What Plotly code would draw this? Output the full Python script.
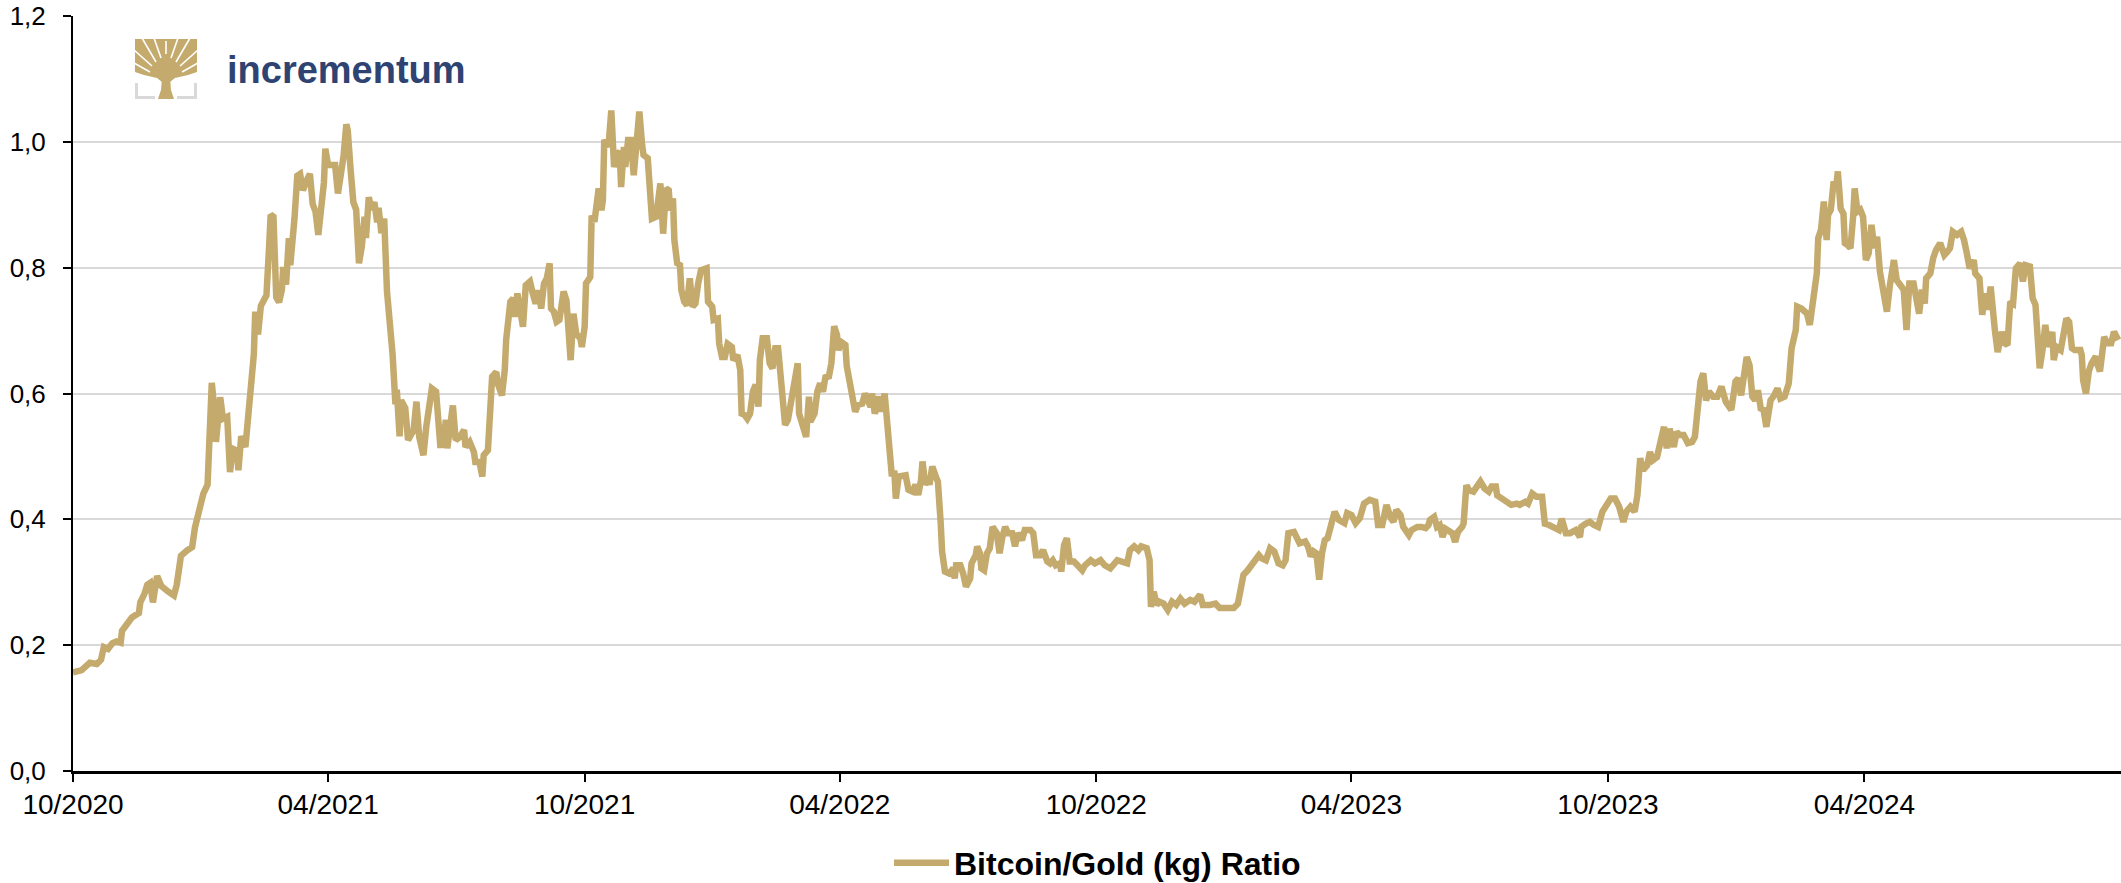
import plotly.graph_objects as go
import pandas as pd

START_DATE = "2020-10-01"
END_DATE = "2024-10-01"
SERIES_NAME = "Bitcoin/Gold (kg) Ratio"
LOGO_TEXT = "incrementum"

# days elapsed since START_DATE for each observation
DAY_OFFSETS = [
    0, 6, 12, 17, 20, 22, 25, 28, 31, 34, 35, 39, 42, 47, 48, 51, 53, 55, 57, 60,
    63, 68, 72, 74, 77, 81, 85, 87, 89, 91, 93, 96, 98, 99, 101, 102, 105, 107, 110, 112,
    114, 117, 118, 120, 123, 125, 127, 129, 130, 132, 134, 136, 138, 140, 141, 143, 144, 145, 147, 149,
    150, 152, 154, 155, 158, 160, 162, 164, 167, 169, 171, 173, 175, 177, 179, 180, 182, 185, 187, 189,
    191, 193, 195, 196, 198, 200, 202, 204, 206, 208, 209, 211, 213, 215, 217, 218, 220, 222, 224, 226,
    228, 230, 231, 233, 234, 237, 239,
    243, 245, 247, 250, 252, 256, 259, 261, 262, 264, 266, 267, 271, 273, 276, 279, 280, 283, 286, 287,
    290, 292, 293, 296, 298, 299, 302, 303, 306, 308, 309, 312, 314, 315, 317, 318, 321, 323, 326, 328,
    330, 332, 334, 336, 338, 340, 341, 343, 345, 347, 350, 352, 354, 355, 357, 359, 362, 363, 365, 366,
    369, 370, 372, 374, 375, 377, 378, 379, 381, 382, 384, 386, 388, 390, 391, 393, 394, 396, 398, 400,
    402, 404, 406, 407, 410, 412, 413, 416, 418, 419, 421, 423, 425, 426, 428, 429, 431, 433, 434, 436,
    438, 440, 442, 444, 446, 448, 452, 453, 456, 457, 460, 461, 463, 465, 467, 470, 471, 474, 476, 477,
    479, 481, 483,
    485, 487, 489, 490, 492, 495, 497, 499, 501, 503, 505, 508, 510, 513, 515, 517, 518, 521, 523, 525,
    526, 529, 531, 533, 535, 537, 539, 541, 543, 545, 546, 548, 551, 552, 554, 556, 558, 560, 563, 565,
    567, 569, 570, 572, 575, 577, 579, 581, 582, 584, 586, 587, 589, 591, 594, 596, 599, 601, 603, 605,
    606, 608, 610, 611, 613, 616, 617, 619, 620, 622, 625, 628, 629, 630, 633, 635, 637, 640, 641, 644,
    645, 647, 648, 650, 652, 654, 656, 659, 661, 663, 665, 667, 670, 672, 674, 677, 679, 683, 685, 687,
    690, 692, 695, 697, 699, 701, 704, 705, 707, 709, 711, 714, 717, 720, 722,
    726, 729, 733, 736, 740, 745, 748, 752, 754, 757, 760, 762, 766, 768, 769, 771, 773, 775, 778, 781,
    784, 787, 790, 793, 797, 800, 804, 806, 811, 815, 818, 823, 828, 831, 833, 835, 838, 840, 842, 846,
    848, 851, 854, 857, 860, 863, 865, 867, 871, 873, 875, 879, 881, 883, 885, 887, 889, 891, 893, 895,
    897, 900, 903, 905, 907, 909, 912, 915, 918, 921, 925, 929, 931, 934, 937, 940, 942, 944, 947, 949,
    953, 955, 959, 962, 965, 967,
    968, 971, 973, 975, 977, 979, 981, 984, 986, 988, 991, 992, 994, 996, 999, 1001, 1004, 1007, 1010, 1012,
    1015, 1016, 1019, 1022, 1024, 1026, 1030, 1032, 1036, 1038, 1041, 1044, 1048, 1050, 1053, 1056, 1060, 1062, 1065, 1068,
    1072, 1075, 1076, 1079, 1082, 1085, 1088, 1091, 1094, 1097, 1100, 1103, 1106, 1108, 1111, 1114, 1116, 1118, 1120, 1123,
    1125, 1127, 1130, 1132, 1135, 1137, 1139, 1142, 1144, 1146, 1149, 1152, 1155, 1157, 1160, 1161, 1163, 1165, 1167, 1170,
    1173, 1176, 1179, 1181, 1183, 1186, 1188, 1190, 1192, 1194, 1196, 1198, 1200, 1202, 1204, 1206, 1208, 1211,
    1213, 1216, 1218, 1221, 1224, 1226, 1229, 1230, 1233, 1237, 1239, 1242, 1244, 1245, 1247, 1249, 1251, 1252, 1254, 1256,
    1258, 1259, 1261, 1263, 1264, 1266, 1268, 1270, 1271, 1273, 1275, 1277, 1279, 1281, 1283, 1285, 1287, 1289, 1292, 1294,
    1296, 1299, 1301, 1304, 1306, 1308, 1310, 1313, 1314, 1317, 1319, 1321, 1322, 1325, 1327, 1329, 1332, 1335, 1337, 1339,
    1341, 1344, 1347, 1349, 1351, 1353, 1356, 1357, 1360, 1362, 1364, 1366, 1368, 1369, 1371, 1373, 1376, 1378, 1380, 1382,
    1384, 1386, 1389, 1391, 1393, 1396, 1398, 1400, 1403, 1405, 1407, 1409, 1412, 1413, 1415, 1418, 1420, 1422, 1424, 1426,
    1428, 1432, 1433, 1434, 1436, 1438, 1440, 1443, 1444, 1446, 1449, 1451, 1454, 1456, 1459,
]

RATIO = [
    0.157, 0.160, 0.172, 0.170, 0.177, 0.197, 0.194, 0.203, 0.206, 0.204, 0.223, 0.234, 0.244, 0.251, 0.268, 0.282, 0.296, 0.299, 0.268, 0.310,
    0.294, 0.285, 0.279, 0.296, 0.342, 0.350, 0.356, 0.387, 0.407, 0.430, 0.441, 0.455, 0.538, 0.617, 0.572, 0.523, 0.594, 0.560, 0.563, 0.475,
    0.512, 0.509, 0.478, 0.532, 0.515, 0.572, 0.597, 0.662, 0.730, 0.694, 0.739, 0.748, 0.756, 0.838, 0.884, 0.881, 0.833, 0.753, 0.745, 0.765,
    0.801, 0.773, 0.847, 0.804, 0.878, 0.946, 0.949, 0.923, 0.940, 0.949, 0.901, 0.889, 0.852, 0.895, 0.935, 0.989, 0.963, 0.963, 0.963, 0.918,
    0.949, 0.977, 1.028, 1.018, 0.957, 0.904, 0.892, 0.807, 0.833, 0.881, 0.847, 0.912, 0.892, 0.904, 0.872, 0.895, 0.855, 0.878, 0.762, 0.719,
    0.662, 0.583, 0.606, 0.532, 0.589, 0.577, 0.526,
    0.542, 0.587, 0.531, 0.502, 0.547, 0.608, 0.603, 0.558, 0.518, 0.518, 0.558, 0.513, 0.581, 0.526, 0.531, 0.542, 0.515, 0.523, 0.507, 0.491,
    0.491, 0.468, 0.502, 0.510, 0.595, 0.627, 0.634, 0.616, 0.597, 0.637, 0.685, 0.746, 0.751, 0.722, 0.759, 0.743, 0.706, 0.772, 0.778, 0.759,
    0.743, 0.764, 0.735, 0.775, 0.783, 0.807, 0.735, 0.730, 0.714, 0.717, 0.762, 0.748, 0.690, 0.653, 0.727, 0.695, 0.687, 0.674, 0.706, 0.775,
    0.785, 0.883, 0.873, 0.907, 0.926, 0.891, 0.907, 1.003, 0.997, 0.992, 1.050, 0.960, 0.981, 0.984, 0.928, 0.992, 0.960, 1.003, 1.003, 0.947,
    0.997, 1.048, 0.995, 0.979, 0.974, 0.923, 0.878, 0.881, 0.913, 0.934, 0.854, 0.926, 0.923, 0.891, 0.910, 0.844, 0.807, 0.804, 0.764, 0.746,
    0.740, 0.783, 0.738, 0.743, 0.775, 0.796, 0.799, 0.746, 0.738, 0.717, 0.719, 0.679, 0.658, 0.658, 0.679, 0.674, 0.653, 0.661, 0.637, 0.568,
    0.566, 0.560, 0.568,
    0.603, 0.614, 0.579, 0.653, 0.688, 0.688, 0.648, 0.640, 0.672, 0.672, 0.611, 0.550, 0.558, 0.595, 0.632, 0.648, 0.568, 0.542, 0.531, 0.595,
    0.555, 0.568, 0.603, 0.616, 0.603, 0.629, 0.624, 0.648, 0.707, 0.693, 0.669, 0.682, 0.677, 0.643, 0.616, 0.584, 0.571, 0.582, 0.584, 0.600,
    0.590, 0.579, 0.600, 0.568, 0.595, 0.571, 0.600, 0.547, 0.505, 0.473, 0.473, 0.433, 0.468, 0.468, 0.470, 0.447, 0.444, 0.455, 0.439, 0.463,
    0.492, 0.455, 0.463, 0.455, 0.484, 0.465, 0.460, 0.394, 0.349, 0.317, 0.314, 0.322, 0.306, 0.327, 0.327, 0.314, 0.293, 0.306, 0.330, 0.343,
    0.357, 0.346, 0.322, 0.319, 0.346, 0.354, 0.388, 0.378, 0.346, 0.372, 0.388, 0.378, 0.378, 0.357, 0.378, 0.367, 0.383, 0.383, 0.378, 0.343,
    0.343, 0.351, 0.333, 0.330, 0.335, 0.327, 0.330, 0.317, 0.359, 0.370, 0.333, 0.333, 0.327, 0.319, 0.327,
    0.335, 0.330, 0.335, 0.327, 0.322, 0.335, 0.333, 0.330, 0.351, 0.357, 0.351, 0.357, 0.354, 0.335, 0.261, 0.285, 0.264, 0.269, 0.266, 0.256,
    0.269, 0.264, 0.274, 0.266, 0.272, 0.269, 0.280, 0.264, 0.264, 0.266, 0.259, 0.259, 0.259, 0.266, 0.293, 0.312, 0.319, 0.325, 0.335, 0.343,
    0.338, 0.335, 0.354, 0.349, 0.330, 0.327, 0.335, 0.378, 0.380, 0.372, 0.362, 0.365, 0.357, 0.341, 0.349, 0.346, 0.304, 0.346, 0.367, 0.370,
    0.388, 0.412, 0.399, 0.396, 0.394, 0.410, 0.407, 0.394, 0.402, 0.425, 0.431, 0.428, 0.391, 0.391, 0.423, 0.402, 0.396, 0.415, 0.407, 0.388,
    0.375, 0.383, 0.388, 0.388, 0.386, 0.391,
    0.399, 0.404, 0.388, 0.391, 0.372, 0.385, 0.383, 0.378, 0.364, 0.380, 0.388, 0.393, 0.454, 0.446, 0.444, 0.452, 0.460, 0.449, 0.444, 0.452,
    0.452, 0.438, 0.433, 0.430, 0.425, 0.423, 0.425, 0.423, 0.428, 0.425, 0.441, 0.436, 0.436, 0.393, 0.391, 0.388, 0.383, 0.401, 0.378, 0.378,
    0.383, 0.372, 0.388, 0.393, 0.396, 0.391, 0.388, 0.412, 0.425, 0.433, 0.433, 0.420, 0.396, 0.412, 0.420, 0.412, 0.438, 0.497, 0.478, 0.486,
    0.507, 0.494, 0.499, 0.521, 0.547, 0.513, 0.544, 0.515, 0.539, 0.534, 0.534, 0.521, 0.523, 0.531, 0.616, 0.619, 0.632, 0.589, 0.603, 0.595,
    0.595, 0.611, 0.587, 0.581, 0.574, 0.619, 0.624, 0.597, 0.632, 0.658, 0.645, 0.595, 0.589, 0.605, 0.576, 0.574, 0.547, 0.589,
    0.595, 0.608, 0.592, 0.595, 0.616, 0.672, 0.701, 0.738, 0.735, 0.727, 0.709, 0.749, 0.791, 0.847, 0.860, 0.905, 0.844, 0.884, 0.892, 0.937,
    0.931, 0.953, 0.894, 0.886, 0.839, 0.836, 0.831, 0.884, 0.926, 0.889, 0.892, 0.881, 0.812, 0.823, 0.868, 0.831, 0.849, 0.794, 0.754, 0.730,
    0.770, 0.812, 0.780, 0.770, 0.765, 0.701, 0.775, 0.775, 0.765, 0.727, 0.765, 0.743, 0.783, 0.791, 0.815, 0.828, 0.839, 0.820, 0.825, 0.831,
    0.857, 0.852, 0.857, 0.844, 0.823, 0.799, 0.812, 0.791, 0.783, 0.725, 0.759, 0.733, 0.770, 0.738, 0.701, 0.666, 0.698, 0.680, 0.677, 0.746,
    0.743, 0.799, 0.807, 0.778, 0.804, 0.802, 0.751, 0.741, 0.640, 0.669, 0.709, 0.674, 0.698, 0.653, 0.674, 0.669, 0.690, 0.719, 0.714, 0.672,
    0.669, 0.669, 0.661, 0.621, 0.600, 0.635, 0.648, 0.659, 0.648, 0.635, 0.690, 0.680, 0.680, 0.698, 0.685,
]

TICK_DATES = ["2020-10-01", "2021-04-01", "2021-10-01", "2022-04-01",
              "2022-10-01", "2023-04-01", "2023-10-01", "2024-04-01"]
TICK_LABELS = ["10/2020", "04/2021", "10/2021", "04/2022",
               "10/2022", "04/2023", "10/2023", "04/2024"]
Y_TICKS = [0.0, 0.2, 0.4, 0.6, 0.8, 1.0, 1.2]
Y_TICK_LABELS = ["0,0", "0,2", "0,4", "0,6", "0,8", "1,0", "1,2"]

GOLD = "#C4AA6C"
NAVY = "#2E4372"
FONT = "Liberation Sans, Arial, sans-serif"

dates = pd.Timestamp(START_DATE) + pd.to_timedelta(DAY_OFFSETS, unit="D")

W, H = 2121, 883
ML, MR, MT, MB = 73, 0, 16, 112
PW, PH = W - ML - MR, H - MT - MB


def px(x):
    return (x - ML) / PW


def py(y):
    return (H - MB - y) / PH


def path(points):
    return "M " + " L ".join(f"{px(x):.5f},{py(y):.5f}" for x, y in points) + " Z"


fig = go.Figure()
fig.add_trace(go.Scatter(
    x=dates, y=RATIO, mode="lines", name=SERIES_NAME,
    line=dict(color=GOLD, width=6.5), hoverinfo="skip",
))

shapes = []
# logo: crown of tree
crown = [(135, 39), (197, 39), (197, 72), (188, 75), (175, 78), (170, 82),
         (162, 82), (157, 78), (144, 75), (135, 72)]
shapes.append(dict(type="path", path=path(crown), xref="paper", yref="paper",
                   fillcolor=GOLD, line=dict(width=0), layer="above"))
trunk = [(162, 78), (170, 78), (171, 90), (174, 99), (158, 99), (161, 90)]
shapes.append(dict(type="path", path=path(trunk), xref="paper", yref="paper",
                   fillcolor=GOLD, line=dict(width=0), layer="above"))
gaps = [((156, 62), (142, 38)), ((161, 58), (154, 38)), ((166, 54), (166, 41)),
        ((171, 58), (178, 38)), ((176, 62), (190, 38)), ((152, 66), (134, 50)),
        ((180, 66), (198, 50)), ((150, 72), (134, 63)), ((182, 72), (198, 63))]
for (x0, y0), (x1, y1) in gaps:
    shapes.append(dict(type="line", x0=px(x0), y0=py(y0), x1=px(x1), y1=py(y1),
                       xref="paper", yref="paper", line=dict(color="white", width=1.6),
                       layer="above"))
for (x0, y0, x1, y1) in [(135, 83, 138, 99), (135, 96, 155, 99),
                         (194, 83, 197, 99), (177, 96, 197, 99)]:
    shapes.append(dict(type="rect", x0=px(x0), y0=py(y0), x1=px(x1), y1=py(y1),
                       xref="paper", yref="paper", fillcolor="#D9D9D9",
                       line=dict(width=0), layer="above"))

fig.update_layout(
    width=W, height=H,
    margin=dict(l=ML, r=MR, t=MT, b=MB, pad=0, autoexpand=False),
    paper_bgcolor="white", plot_bgcolor="white",
    separators=", ",
    font=dict(family=FONT, color="black"),
    showlegend=True,
    legend=dict(orientation="h", xref="container", yref="container",
                x=889 / W, xanchor="left", y=1 - 863 / H, yanchor="middle",
                font=dict(family=FONT, size=32, color="black", weight="bold"),
                bgcolor="rgba(0,0,0,0)", borderwidth=0, itemwidth=55,
                tracegroupgap=0),
    shapes=shapes,
    annotations=[dict(text=LOGO_TEXT, x=px(225), y=py(70), xref="paper", yref="paper",
                      xanchor="left", yanchor="middle", showarrow=False,
                      font=dict(family=FONT, size=38, color=NAVY, weight="bold"))],
)
fig.update_xaxes(
    type="date", range=[START_DATE, END_DATE],
    tickmode="array", tickvals=TICK_DATES, ticktext=TICK_LABELS,
    ticks="outside", ticklen=8, tickwidth=2, tickcolor="black",
    showline=True, linecolor="black", linewidth=3,
    showgrid=False, zeroline=False, ticklabelstandoff=-2,
    tickfont=dict(family=FONT, size=28, color="black"),
)
fig.update_yaxes(
    range=[0, 1.2], tickmode="array", tickvals=Y_TICKS, ticktext=Y_TICK_LABELS,
    ticks="outside", ticklen=8, tickwidth=2, tickcolor="black",
    showline=True, linecolor="black", linewidth=2,
    showgrid=True, gridcolor="#D9D9D9", gridwidth=1.5, zeroline=False,
    ticklabelstandoff=12,
    tickfont=dict(family=FONT, size=26, color="black"),
)

fig.write_html("out.html", config={"displayModeBar": False},
               post_script="document.body.style.margin='0';document.body.style.overflow='hidden';")
